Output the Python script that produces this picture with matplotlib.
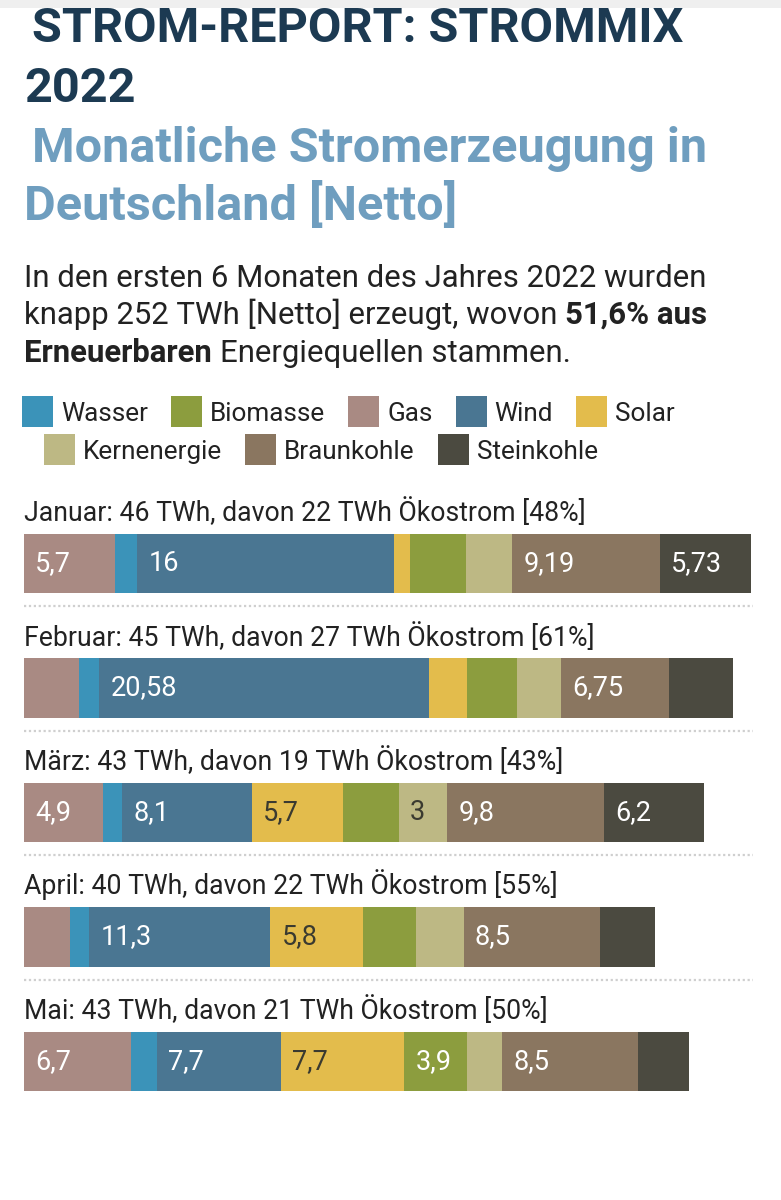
import matplotlib
matplotlib.use("Agg")
import matplotlib.pyplot as plt
import matplotlib.patches as mpatches
import numpy as np

plt.rcParams['font.family'] = ['Roboto', 'DejaVu Sans']

W, H = 781, 1200

# data (TWh)
months = ['Januar', 'Februar', 'März', 'April', 'Mai']
month_titles = [
    'Januar: 46 TWh, davon 22 TWh Ökostrom [48%]',
    'Februar: 45 TWh, davon 27 TWh Ökostrom [61%]',
    'März: 43 TWh, davon 19 TWh Ökostrom [43%]',
    'April: 40 TWh, davon 22 TWh Ökostrom [55%]',
    'Mai: 43 TWh, davon 21 TWh Ökostrom [50%]',
]
gas = [5.7, 3.45, 4.9, 2.86, 6.7]
wasser = [1.37, 1.24, 1.21, 1.21, 1.62]
wind = [16, 20.58, 8.1, 11.3, 7.7]
solar = [1.04, 2.36, 5.7, 5.8, 7.7]
biomasse = [3.47, 3.14, 3.48, 3.27, 3.9]
kern = [2.88, 2.71, 3.0, 2.99, 2.2]
braun = [9.19, 6.75, 9.8, 8.5, 8.5]
stein = [5.73, 4.01, 6.2, 3.45, 3.14]

# labels shown inside the segments ('' = none)
gas_lbl = ['5,7', '', '4,9', '', '6,7']
wasser_lbl = ['', '', '', '', '']
wind_lbl = ['16', '20,58', '8,1', '11,3', '7,7']
solar_lbl = ['', '', '5,7', '5,8', '7,7']
biomasse_lbl = ['', '', '', '', '3,9']
kern_lbl = ['', '', '3', '', '']
braun_lbl = ['9,19', '6,75', '9,8', '8,5', '8,5']
stein_lbl = ['5,73', '', '6,2', '', '']

legend_row1 = ['Wasser', 'Biomasse', 'Gas', 'Wind', 'Solar']
legend_row2 = ['Kernenergie', 'Braunkohle', 'Steinkohle']

colors = {
    'Gas': '#a98a83',
    'Wasser': '#3b93b9',
    'Wind': '#4a7692',
    'Solar': '#e3bc4c',
    'Biomasse': '#8c9d3e',
    'Kernenergie': '#bdb884',
    'Braunkohle': '#8a7660',
    'Steinkohle': '#4b4a40',
}
label_dark = {'Solar', 'Kernenergie'}

stack = [
    ('Gas', gas, gas_lbl),
    ('Wasser', wasser, wasser_lbl),
    ('Wind', wind, wind_lbl),
    ('Solar', solar, solar_lbl),
    ('Biomasse', biomasse, biomasse_lbl),
    ('Kernenergie', kern, kern_lbl),
    ('Braunkohle', braun, braun_lbl),
    ('Steinkohle', stein, stein_lbl),
]

fig = plt.figure(figsize=(W / 100, H / 100), dpi=100)
fig.patch.set_facecolor('white')
renderer = fig.canvas.get_renderer()


def fx(x):
    return x / W


def fy(y):
    return 1 - y / H


def text_width(s, **kw):
    t = fig.text(0, 0, s, **kw)
    w = t.get_window_extent(renderer).width
    t.remove()
    return w


def put_runs(x, y, runs, size):
    sp = text_width('n n', fontsize=size) - text_width('nn', fontsize=size)
    for s, weight in runs:
        if s == ' ':
            x += sp
            continue
        t = fig.text(fx(x), fy(y), s, fontsize=size, fontweight=weight,
                     color='#222222', va='baseline', ha='left')
        x = t.get_window_extent(renderer).x1


# header
fig.text(fx(32), fy(42), 'STROM-REPORT: STROMMIX', fontsize=35, fontweight='bold',
         color='#1c3a52', va='baseline')
fig.text(fx(24), fy(102), '2022', fontsize=35, fontweight='bold',
         color='#1c3a52', va='baseline')
fig.text(fx(32), fy(162), 'Monatliche Stromerzeugung in', fontsize=35, fontweight='bold',
         color='#6f9ebf', va='baseline')
fig.text(fx(24), fy(220), 'Deutschland [Netto]', fontsize=35, fontweight='bold',
         color='#6f9ebf', va='baseline')
fig.patches.append(mpatches.Rectangle((0, fy(8)), 1, 8 / H, transform=fig.transFigure,
                                      facecolor='#efefef', edgecolor='none', zorder=5))

body = 22.4
put_runs(24, 287, [('In den ersten 6 Monaten des Jahres 2022 wurden', 'normal')], body)
put_runs(24, 324, [('knapp 252 TWh [Netto] erzeugt, wovon', 'normal'), (' ', None),
                   ('51,6% aus', 'bold')], body)
put_runs(24, 362, [('Erneuerbaren', 'bold'), (' ', None),
                   ('Energiequellen stammen.', 'normal')], body)

# legend
leg_size = 18.8


def legend_row(x, top, names):
    for name in names:
        fig.patches.append(mpatches.Rectangle((fx(x), fy(top + 31)), 31 / W, 31 / H,
                                              transform=fig.transFigure,
                                              facecolor=colors[name], edgecolor='none'))
        t = fig.text(fx(x + 39), fy(top + 15.5), name, fontsize=leg_size, color='#222222',
                     va='center_baseline', ha='left')
        x = t.get_window_extent(renderer).x1 + 23


legend_row(22, 396, legend_row1)
legend_row(44, 434, legend_row2)

# bars
px_per_twh = 16.03
step = 124.5
first_center = 563.5
ax_top = first_center - step / 2
ax_h = step * len(months)
ax_w = 728.5
ax = fig.add_axes([fx(24), fy(ax_top + ax_h), ax_w / W, ax_h / H])
ax.set_xlim(0, ax_w / px_per_twh)
ax.set_ylim(len(months) - 0.5, -0.5)
ax.axis('off')

y = np.arange(len(months))
bar_h = 59.5 / step
left = np.zeros(len(months))
for name, vals, lbls in stack:
    vals = np.array(vals, dtype=float)
    ax.barh(y, vals, left=left, height=bar_h, color=colors[name], edgecolor='none')
    for i, lb in enumerate(lbls):
        if lb:
            ax.annotate(lb, (left[i], y[i]), xytext=(8, 0), textcoords='offset points',
                        va='center', ha='left', fontsize=19.5,
                        color='#3a3a30' if name in label_dark else 'white')
    left += vals

off = 42.5 / step
for i, title in enumerate(month_titles):
    ax.text(0, y[i] - off, title, fontsize=19.2, color='#222222', va='baseline', ha='left')
    if i < len(months) - 1:
        ax.hlines(y[i] + off, 0, ax_w / px_per_twh, colors='#cfcfcf', linewidth=1.6,
                  linestyles=(0, (1, 1.2)))

fig.savefig('out.png', dpi=100, facecolor='white')
